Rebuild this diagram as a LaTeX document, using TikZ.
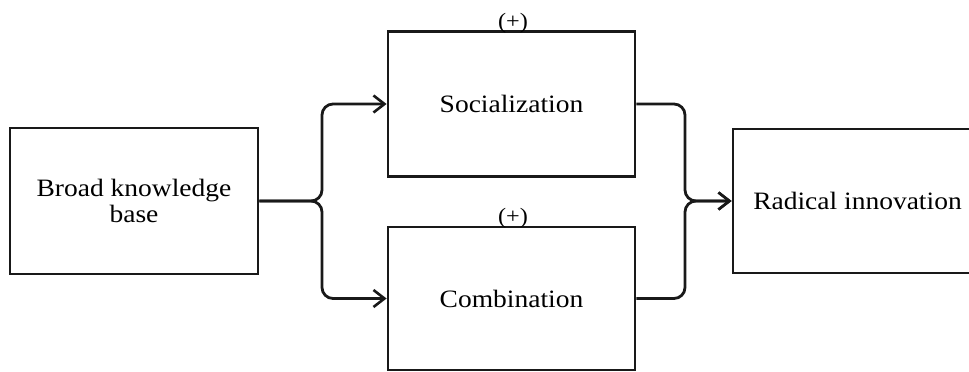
\documentclass[tikz,border=0pt]{standalone}
\usepackage{fontspec}
\setmainfont{Liberation Serif}[FakeStretch=1.1]
\usetikzlibrary{arrows.meta,calc}

\tikzset{
  box/.style={draw=black!90, line width=2.8pt, rectangle, inner sep=0pt,
              font=\fontsize{25}{26}\selectfont, align=center},
  conn/.style={draw=black!90, line width=2.8pt, rounded corners=11pt,
               -{Straight Barb[length=11pt,width=17pt,line width=2.6pt]}},
  sign/.style={font=\fontsize{22}{22}\selectfont, inner sep=0pt}
}

\begin{document}
\begin{tikzpicture}[x=1pt,y=-1pt]
  \useasboundingbox (0,0) rectangle (969,372);
  \clip (0,0) rectangle (969,372);

  % boxes
  \node[box, minimum width=248pt, minimum height=146pt] (base) at (134,201)
        {Broad knowledge\\base};
  \node[box, minimum width=247pt, minimum height=145pt] (soc) at (511.5,104)
        {Socialization};
  \node[box, minimum width=247pt, minimum height=143pt] (comb) at (511.5,298.5)
        {Combination};
  \node[box, minimum width=249pt, minimum height=144pt] (rad) at (857.5,201)
        {Radical innovation};

  % signs on the mediating paths
  \node[sign] (plus1) at (513,23) {(+)};
  \node[sign] (plus2) at (513,218) {(+)};

  % branching and merging connectors
  \coordinate (split) at (322,201);
  \coordinate (merge) at (685,201);
  \draw[conn] (base.east) -- (split) |- (soc.west);
  \draw[conn] (base.east) -- (split) |- (comb.west);
  \draw[conn] (soc.east) -| (merge) -- (rad.west);
  \draw[conn] (comb.east) -| (merge) -- (rad.west);
\end{tikzpicture}
\end{document}
